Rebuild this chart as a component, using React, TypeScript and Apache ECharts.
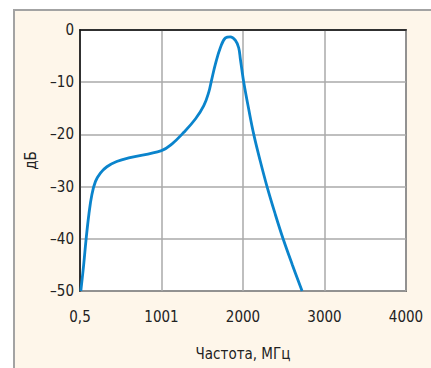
import React, { useEffect, useRef } from "react";
import * as echarts from "echarts";

const freqs = [10, 45, 74, 110, 145, 190, 250, 330, 450, 598, 1000, 1130, 1274, 1418, 1519, 1580, 1613, 1662, 1724, 1785, 1845, 1907, 1947, 1968, 1988, 2009, 2068, 2132, 2210, 2295, 2390, 2492, 2606, 2725];
const gains = [-50, -45, -40.2, -35.2, -31.6, -29.0, -27.4, -26.2, -25.2, -24.5, -23.1, -21.8, -19.6, -17.0, -14.5, -11.9, -9.7, -6.5, -3.3, -1.5, -1.3, -2.0, -3.4, -5.6, -7.8, -10, -15, -20, -25, -30, -35, -40, -45, -50];
const xTickValues = [0, 1000, 2000, 3000, 4000];
const xTickLabels = ["0,5", "1001", "2000", "3000", "4000"];
const yTitle = "дБ";
const xTitle = "Частота, МГц";

const FONT = "'Liberation Sans Narrow', 'DejaVu Sans Condensed', 'Roboto', sans-serif";

export default function App() {
  const ref = useRef<HTMLDivElement>(null);
  useEffect(() => {
    if (!ref.current) return;
    const chart = echarts.init(ref.current, null, { renderer: "svg" });
    chart.setOption({
      animation: false,
      backgroundColor: "transparent",
      grid: {
        left: 80,
        top: 30,
        right: 25,
        bottom: 77,
        show: true,
        backgroundColor: "#ffffff",
        borderColor: "#111",
        borderWidth: 1.5,
      },
      xAxis: {
        type: "value",
        min: 0,
        max: 4000,
        interval: 1000,
        name: xTitle,
        nameLocation: "middle",
        nameGap: 55,
        nameTextStyle: { fontFamily: FONT, fontSize: 15, color: "#222" },
        axisLine: { show: true, lineStyle: { color: "#111", width: 1.5 } },
        axisTick: { show: false },
        axisLabel: {
          margin: 18,
          fontFamily: FONT,
          fontSize: 15,
          color: "#222",
          formatter: (v: number) => {
            const i = xTickValues.indexOf(v);
            return i >= 0 ? xTickLabels[i] : "";
          },
        },
        splitLine: { show: true, lineStyle: { color: "#aaaaaa", width: 1.5 } },
      },
      yAxis: {
        type: "value",
        min: -50,
        max: 0,
        interval: 10,
        name: yTitle,
        nameLocation: "middle",
        nameGap: 42,
        nameRotate: 90,
        nameTextStyle: { fontFamily: FONT, fontSize: 15, color: "#222" },
        axisLine: { show: true, lineStyle: { color: "#111", width: 1.5 } },
        axisTick: { show: false },
        axisLabel: {
          margin: 6,
          fontFamily: FONT,
          fontSize: 15,
          color: "#222",
          formatter: (v: number) => (v === 0 ? "0" : "–" + Math.abs(v)),
        },
        splitLine: { show: true, lineStyle: { color: "#aaaaaa", width: 1.5 } },
      },
      series: [
        {
          type: "line",
          data: freqs.map((f, i) => [f, gains[i]]),
          smooth: 0.4,
          showSymbol: false,
          clip: false,
          lineStyle: { color: "#0a84cc", width: 2.8 },
        },
      ],
    });
    return () => chart.dispose();
  }, []);

  return (
    <div style={{ position: "fixed", left: 0, top: 0, width: 431, height: 368, background: "#fff", overflow: "hidden" }}>
      <div
        style={{
          position: "absolute",
          left: 13,
          top: 9,
          right: -10,
          bottom: -10,
          background: "#fef6ea",
          borderLeft: "2px solid #a3a3a3",
          borderTop: "2px solid #a3a3a3",
        }}
      />
      <div ref={ref} style={{ position: "absolute", left: 0, top: 0, width: 431, height: 368 }} />
    </div>
  );
}
